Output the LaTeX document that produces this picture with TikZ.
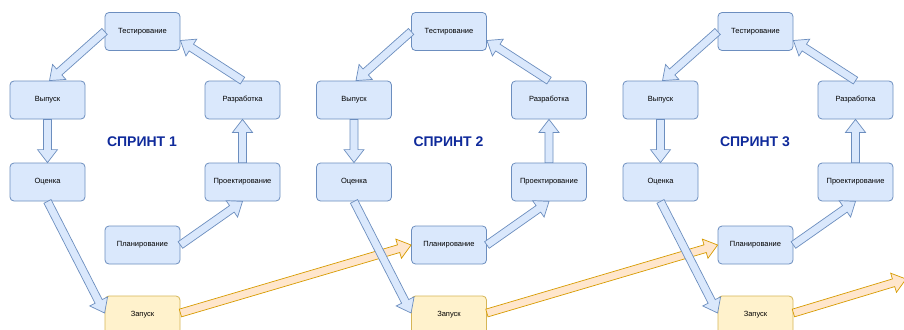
\documentclass[tikz,border=0pt]{standalone}
\usepackage{fontspec}
\setmainfont{Liberation Sans}
\usetikzlibrary{calc}
\definecolor{bfill}{HTML}{DAE8FC}
\definecolor{bdraw}{HTML}{6C8EBF}
\definecolor{yfill}{HTML}{FFF2CC}
\definecolor{ydraw}{HTML}{D6B656}
\definecolor{ofill}{HTML}{FFE6CC}
\definecolor{odraw}{HTML}{D79B00}
\definecolor{ttl}{RGB}{15,42,155}
\newcommand\flexarr[3]{%
  \path (#2) coordinate (fa-s) (#3) coordinate (fa-e);
  \path ($(fa-e)!13pt!(fa-s)$) coordinate (fa-c);
  \filldraw[#1] ($(fa-s)!4pt!90:(fa-e)$) -- ($(fa-c)!4pt!90:(fa-e)$) -- ($(fa-c)!10pt!90:(fa-e)$) -- (fa-e) -- ($(fa-c)!10pt!-90:(fa-e)$) -- ($(fa-c)!4pt!-90:(fa-e)$) -- ($(fa-s)!4pt!-90:(fa-e)$) -- cycle;
}
\tikzset{
  box/.style={draw=bdraw, fill=bfill, line width=0.8pt, rounded corners=4pt, minimum width=75pt, minimum height=38pt, inner sep=0pt, font=\fontsize{7.5}{9}\selectfont},
  zbox/.style={box, draw=ydraw, fill=yfill},
  barr/.style={draw=bdraw, fill=bfill, line width=0.7pt, line join=miter},
  oarr/.style={draw=odraw, fill=ofill, line width=0.7pt, line join=miter},
  ttlstyle/.style={text=ttl, font=\bfseries\fontsize{14}{16}\selectfont, inner sep=0pt},
}
\begin{document}
\begin{tikzpicture}[x=1pt,y=-1pt]
\useasboundingbox (0,0) rectangle (904,329);
\clip (0,0) rectangle (904,329);
\fill[white] (0,0) rectangle (904,329);
\foreach \i/\dx in {1/0,2/306.5,3/613}{
  \begin{scope}[xshift=\dx pt]
  \node[box] (test\i) at (142.5,31.5) {Тестирование};
  \node[box] (vyp\i) at (47.5,100) {Выпуск};
  \node[box] (raz\i) at (242.5,100) {Разработка};
  \node[box] (oc\i) at (47.5,182) {Оценка};
  \node[box] (proj\i) at (242.5,182) {Проектирование};
  \node[box] (plan\i) at (142.5,245) {Планирование};
  \node[zbox] (zap\i) at (142.5,315) {Запуск};
  \node[ttlstyle] (title\i) at (142,142) {СПРИНТ \i};
  \end{scope}
}
\coordinate (out) at (906,279);
\flexarr{oarr}{$(zap1.east)+(0,-2)$}{plan2.west}
\flexarr{oarr}{$(zap2.east)+(0,-2)$}{plan3.west}
\flexarr{oarr}{$(zap3.east)+(0,-2)$}{out}
\foreach \i in {1,2,3}{
  \flexarr{barr}{test\i.west}{$(vyp\i.north)+(2,0)$}
  \flexarr{barr}{vyp\i.south}{oc\i.north}
  \flexarr{barr}{oc\i.south}{$(zap\i.west)+(0,-2)$}
  \flexarr{barr}{plan\i.east}{proj\i.south}
  \flexarr{barr}{proj\i.north}{raz\i.south}
  \flexarr{barr}{raz\i.north}{$(test\i.east)+(0,9)$}
}
\end{tikzpicture}
\end{document}
